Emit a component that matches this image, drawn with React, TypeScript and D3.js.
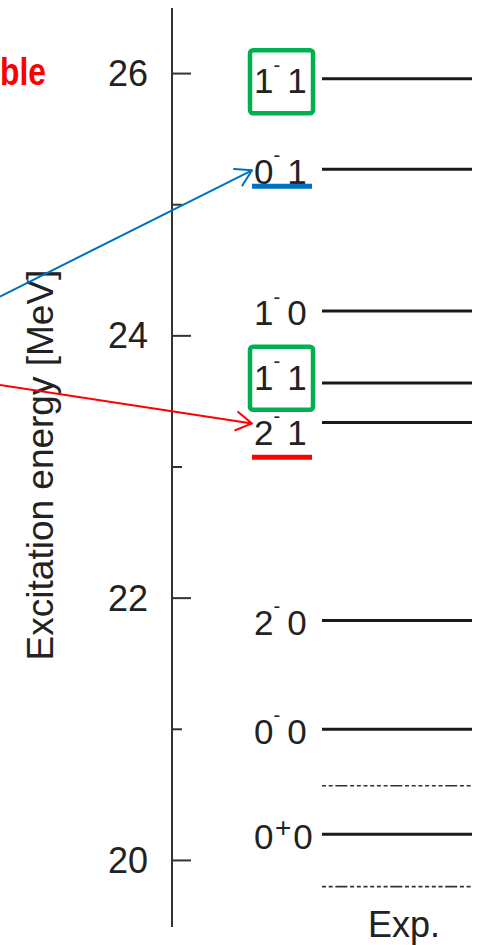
import React from "react";
import * as d3 from "d3";

const W = 478;
const H = 945;

// Energy axis (MeV)
const axisDomain = [19.5, 26.5];
const majorTicks = [20, 22, 24, 26];
const minorTicks = [21, 23, 25];
const axisTitle = "Excitation energy [MeV]";
const columnLabel = "Exp.";
const headerFragment = "ble";

// Assigned experimental levels: energy (MeV), spin J, parity, isospin T
const levelEnergies = [25.96, 25.27, 24.19, 23.64, 23.34, 21.83, 21.0, 20.2];
const levelSpins = ["1", "0", "1", "1", "2", "2", "0", "0"];
const levelParities = ["-", "-", "-", "-", "-", "-", "-", "+"];
const levelIsospins = ["1", "1", "0", "1", "1", "0", "0", "0"];

// Levels without assignment (drawn dash-dotted)
const unassignedEnergies = [20.57, 19.8];

// Highlighted levels
const boxedLevels = [0, 3];
const arrowLevels = [1, 4];
const arrowColors = ["#0070C0", "#FF0000"];
const arrowStartEnergies = [24.3, 23.625];
const underlineGaps = [15, 25];

const FONT = "'Liberation Sans', Arial, Helvetica, sans-serif";
const INK = "#222";

export default function App() {
  const y = d3.scaleLinear().domain(axisDomain).range([926, 8]);
  const axisX = 172;
  const lineX1 = 322;
  const lineX2 = 472;
  const labelX = 254;

  // label centres, pushed apart where levels sit too close together
  const minGap = 55;
  const centers = levelEnergies.map((e) => y(e) + 2);
  const order = d3.range(centers.length).sort((a, b) => centers[a] - centers[b]);
  for (let k = 1; k < order.length; k++) {
    const a = order[k - 1];
    const b = order[k];
    if (centers[b] - centers[a] < minGap) {
      const mid = (centers[a] + centers[b]) / 2;
      centers[a] = mid - minGap / 2;
      centers[b] = mid + minGap / 2;
    }
  }

  const dash = "12,2.7,4,2.7,4,2.7,4,2.7,4,2.7,4,2.7,4,2.7";

  const arrowHead = (x0: number, y0: number, x1: number, y1: number, len: number, spread: number) => {
    const back = Math.atan2(y0 - y1, x0 - x1);
    const a1 = back + (spread * Math.PI) / 180;
    const a2 = back - (spread * Math.PI) / 180;
    return `M${x1 + len * Math.cos(a1)},${y1 + len * Math.sin(a1)}L${x1},${y1}L${x1 + len * Math.cos(a2)},${y1 + len * Math.sin(a2)}`;
  };

  return (
    <svg
      width={W}
      height={H}
      viewBox={`0 0 ${W} ${H}`}
      style={{ position: "absolute", left: 0, top: 0, background: "#fff" }}
      fontFamily={FONT}
    >
      <rect x={0} y={0} width={W} height={H} fill="#fff" />

      {/* header fragment */}
      <text
        x={0}
        y={85}
        fontSize={38}
        fontWeight="bold"
        fill="#FF0000"
        textLength={46}
        lengthAdjust="spacingAndGlyphs"
      >
        {headerFragment}
      </text>

      {/* axis */}
      <line x1={axisX} x2={axisX} y1={y(axisDomain[0]) + 1} y2={y(axisDomain[1])} stroke="#333" strokeWidth={2} />
      {majorTicks.map((t) => (
        <g key={`M${t}`}>
          <line x1={axisX} x2={axisX + 19} y1={y(t)} y2={y(t)} stroke="#333" strokeWidth={2} />
          <text x={148} y={y(t) + 12.5} fontSize={36} textAnchor="end" fill={INK}>
            {t}
          </text>
        </g>
      ))}
      {minorTicks.map((t) => (
        <line key={`m${t}`} x1={axisX} x2={axisX + 10} y1={y(t)} y2={y(t)} stroke="#333" strokeWidth={2} />
      ))}
      <text
        transform="translate(53,465) rotate(-90)"
        fontSize={37}
        textAnchor="middle"
        fill={INK}
      >
        {axisTitle}
      </text>

      {/* levels */}
      {levelEnergies.map((e, i) => (
        <line key={`l${i}`} x1={lineX1} x2={lineX2} y1={y(e)} y2={y(e)} stroke="#1a1a1a" strokeWidth={3} />
      ))}
      {unassignedEnergies.map((e, i) => (
        <line
          key={`u${i}`}
          x1={lineX1}
          x2={lineX2}
          y1={y(e)}
          y2={y(e)}
          stroke="#333"
          strokeWidth={1.6}
          strokeDasharray={dash}
          strokeDashoffset={41.5}
        />
      ))}

      {/* level labels J^pi T */}
      {levelEnergies.map((_, i) => {
        const c = centers[i];
        const plus = levelParities[i] === "+";
        return (
          <text key={`t${i}`} x={labelX} y={c + 12.5} fontSize={35} fill={INK}>
            <tspan>{levelSpins[i]}</tspan>
            {plus ? (
              <tspan fontSize={28} dx={1.5} dy={-11.5}>
                +
              </tspan>
            ) : (
              <tspan fontSize={20} dx={0} dy={-21.5}>
                -
              </tspan>
            )}
            <tspan dx={plus ? 2 : 7} dy={plus ? 11.5 : 21.5}>
              {levelIsospins[i]}
            </tspan>
          </text>
        );
      })}

      {/* boxed labels */}
      {boxedLevels.map((i) => (
        <rect
          key={`b${i}`}
          x={250}
          y={centers[i] - 30.5}
          width={63}
          height={63}
          rx={3}
          fill="none"
          stroke="#00B050"
          strokeWidth={4.5}
        />
      ))}

      {/* underlined labels with arrows */}
      {arrowLevels.map((i, k) => {
        const color = arrowColors[k];
        const ly = centers[i] + underlineGaps[k];
        const tipX = 252;
        const tipY = y(levelEnergies[i]) + 1;
        const x0 = 0;
        const y0 = y(arrowStartEnergies[k]);
        return (
          <g key={`a${i}`}>
            <line x1={252} x2={312} y1={ly} y2={ly} stroke={color} strokeWidth={5} />
            <line x1={x0} y1={y0} x2={tipX} y2={tipY} stroke={color} strokeWidth={2} />
            <path
              d={arrowHead(x0, y0, tipX, tipY, 18, 31)}
              fill="none"
              stroke={color}
              strokeWidth={2}
              strokeLinecap="round"
              strokeLinejoin="round"
            />
          </g>
        );
      })}

      {/* column label */}
      <text x={404} y={937} fontSize={36} textAnchor="middle" fill={INK}>
        {columnLabel}
      </text>
    </svg>
  );
}
